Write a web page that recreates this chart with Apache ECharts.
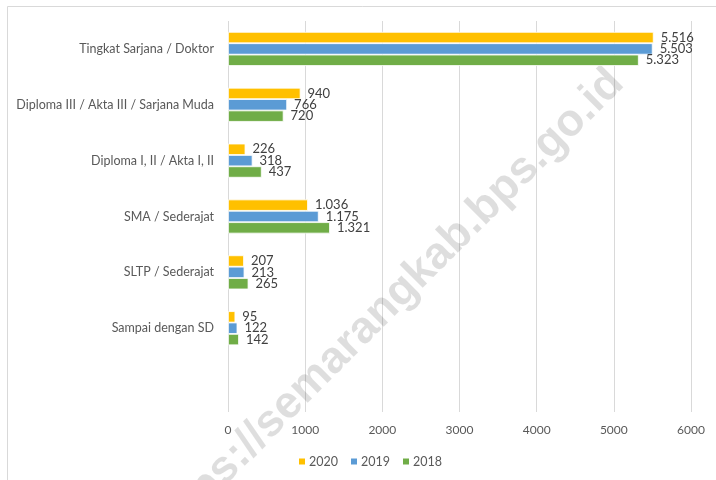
<!DOCTYPE html>
<html>
<head>
<meta charset="utf-8">
<script src="https://cdn.jsdelivr.net/npm/echarts@6/dist/echarts.min.js"></script>
<style>
html,body{margin:0;padding:0;background:#fff;}
#chart{width:716px;height:480px;}
</style>
</head>
<body>
<div id="chart"></div>
<script>
const categories = ['Tingkat Sarjana / Doktor', 'Diploma III / Akta III / Sarjana Muda', 'Diploma I, II / Akta I, II', 'SMA / Sederajat', 'SLTP / Sederajat', 'Sampai dengan SD', ''];
const values2020 = [5516, 940, 226, 1036, 207, 95, null];
const values2019 = [5503, 766, 318, 1175, 213, 122, null];
const values2018 = [5323, 720, 437, 1321, 265, 142, null];
const xTicks = [0, 1000, 2000, 3000, 4000, 5000, 6000];

const FONT = 'Lato';
function fmt(v) {
  return String(v).replace(/\B(?=(\d{3})+(?!\d))/g, '.');
}
function mk(name, data, color) {
  return {
    name: name,
    type: 'bar',
    data: data,
    barGap: '0%',
    barCategoryGap: '39%',
    itemStyle: { color: color, borderColor: '#ffffff', borderWidth: 0.8 },
    label: {
      show: true,
      position: 'right',
      distance: 7,
      color: '#404040',
      fontFamily: FONT,
      fontSize: 13,
      formatter: p => (p.value == null ? '' : fmt(p.value))
    },
    z: 3
  };
}

const chart = echarts.init(document.getElementById('chart'), null, { renderer: 'canvas' });
chart.setOption({
  backgroundColor: '#ffffff',
  animation: false,
  textStyle: { fontFamily: FONT },
  grid: { left: 228, right: 25, top: 21, bottom: 68, containLabel: false },
  legend: {
    data: ['2020', '2019', '2018'],
    left: 292,
    top: 450,
    itemWidth: 8,
    itemHeight: 8,
    itemGap: 11,
    icon: 'rect',
    textStyle: { color: '#595959', fontFamily: FONT, fontSize: 12.5, padding: [0, 0, 0, -2] }
  },
  xAxis: {
    type: 'value',
    min: xTicks[0],
    max: xTicks[xTicks.length - 1],
    interval: 1000,
    axisLine: { show: false },
    axisTick: { show: false },
    axisLabel: { color: '#595959', fontFamily: FONT, fontSize: 12, margin: 12, formatter: v => String(v) },
    splitLine: { show: true, lineStyle: { color: '#d9d9d9', width: 1 } }
  },
  yAxis: {
    type: 'category',
    data: categories,
    inverse: true,
    axisLine: { show: false },
    axisTick: { show: false },
    axisLabel: { color: '#595959', fontFamily: FONT, fontSize: 12.5, margin: 14 }
  },
  graphic: [
    {
      type: 'rect',
      left: 5, top: 4,
      shape: { width: 760, height: 520 },
      style: { fill: 'none', stroke: '#d9d9d9', lineWidth: 1 },
      z: 0
    },
    {
      type: 'text',
      x: 386, y: 307,
      rotation: 45 * Math.PI / 180,
      style: {
        text: 'https://semarangkab.bps.go.id',
        fontFamily: 'Liberation Sans',
        fontWeight: 'bold',
        fontSize: 45,
        fill: 'rgba(0,0,0,0.13)',
        align: 'center',
        verticalAlign: 'middle'
      },
      z: 1
    }
  ],
  series: [
    mk('2020', values2020, '#FFC000'),
    mk('2019', values2019, '#5B9BD5'),
    mk('2018', values2018, '#70AD47')
  ]
});
</script>
</body>
</html>
